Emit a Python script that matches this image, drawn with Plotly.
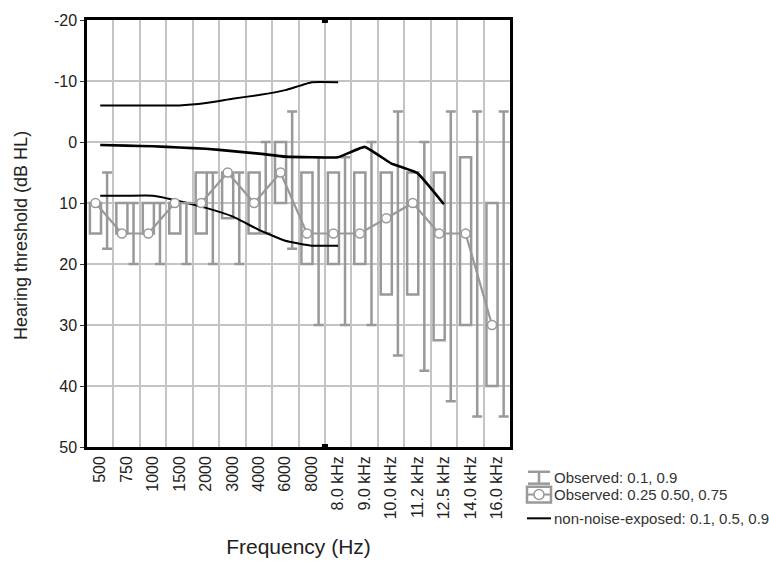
import plotly.graph_objects as go

# ---------------- data ----------------
freq_labels = ["500", "750", "1000", "1500", "2000", "3000", "4000", "6000", "8000",
               "8.0 kHz", "9.0 kHz", "10.0 kHz", "11.2 kHz", "12.5 kHz", "14.0 kHz", "16.0 kHz"]

obs_p10 = [5, 10, 10, 10, 5, 5, 0, -5, 2.5, 2.5, 0, -5, 0, -5, -5, -5]
obs_p90 = [17.5, 20, 20, 20, 20, 20, 15, 17.5, 30, 30, 30, 35, 37.5, 42.5, 45, 45]
obs_p25 = [10, 10, 10, 10, 5, 5, 5, 0, 5, 5, 5, 5, 5, 5, 2.5, 10]
obs_p75 = [15, 15, 15, 15, 15, 12.5, 15, 10, 20, 20, 20, 25, 25, 32.5, 30, 40]
obs_p50 = [10, 15, 15, 10, 10, 5, 10, 5, 15, 15, 15, 12.5, 10, 15, 15, 30]

nn_p10 = [-6, -6, -6, -6, -6.4, -7.1, -7.7, -8.5, -9.8, -9.8]
nn_p50 = [0.5, 0.6, 0.7, 0.9, 1.1, 1.5, 1.9, 2.4, 2.5, 2.5, 0.8, 3.5, 5.1, 10.2]
nn_p90 = [8.8, 8.8, 8.8, 9.7, 10.8, 12.2, 14.4, 16.2, 17, 17]

y_ticks = [-20, -10, 0, 10, 20, 30, 40, 50]
y_tick_labels = ["-20", "-10", "0", "10", "20", "30", "40", "50"]
break_after = 8  # axis break between "8000" and "8.0 kHz"

x_title = "Frequency (Hz)"
y_title = "Hearing threshold (dB HL)"
legend_labels = ["Observed: 0.1, 0.9", "Observed: 0.25 0.50, 0.75",
                 "non-noise-exposed: 0.1, 0.5, 0.9"]

# ---------------- style ----------------
GRAY = "#999999"
GRID = "#c4c4c4"
FONT = "Liberation Sans, Arial, sans-serif"
TXT = "#222222"
BOX_OFF = -0.18
WHISK_OFF = 0.26

W, H = 769, 574
L, R, T, B = 87, 259, 16, 127

n = len(freq_labels)
idx = list(range(n))


def pad(vals):
    return list(vals) + [None] * (n - len(vals))


fig = go.Figure()

# quartile boxes
fig.add_trace(go.Bar(
    x=[i + BOX_OFF for i in idx],
    base=obs_p25,
    y=[b - a for a, b in zip(obs_p25, obs_p75)],
    width=0.42,
    marker=dict(color="rgba(255,255,255,0)", line=dict(color=GRAY, width=2.5)),
    showlegend=False, hoverinfo="skip",
))

# 10/90 whiskers
fig.add_trace(go.Scatter(
    x=[i + WHISK_OFF for i in idx],
    y=[(a + b) / 2 for a, b in zip(obs_p10, obs_p90)],
    mode="markers",
    marker=dict(size=1, opacity=0),
    error_y=dict(type="data", array=[(b - a) / 2 for a, b in zip(obs_p10, obs_p90)],
                 symmetric=True, color=GRAY, thickness=2.5, width=5),
    showlegend=False, hoverinfo="skip",
))

# non-noise-exposed percentiles
for vals, w in ((nn_p10, 2), (nn_p50, 2.6), (nn_p90, 2)):
    fig.add_trace(go.Scatter(
        x=idx, y=pad(vals), mode="lines",
        line=dict(color="black", width=w, shape="spline", smoothing=0.3),
        connectgaps=False, showlegend=False, hoverinfo="skip",
    ))

# observed medians
fig.add_trace(go.Scatter(
    x=[i + BOX_OFF for i in idx], y=obs_p50, mode="lines+markers",
    line=dict(color=GRAY, width=2.2),
    marker=dict(symbol="circle", size=9, color="white", line=dict(color=GRAY, width=1.5)),
    showlegend=False, hoverinfo="skip",
))

# axis-break markers
fig.add_trace(go.Scatter(
    x=[break_after + 0.5] * 2, y=[y_ticks[0], y_ticks[-1]], mode="markers",
    marker=dict(symbol="square", size=6, color="black"),
    cliponaxis=False, showlegend=False, hoverinfo="skip",
))

fig.update_layout(
    width=W, height=H,
    margin=dict(l=L, r=R, t=T, b=B),
    paper_bgcolor="white", plot_bgcolor="white",
    font=dict(family=FONT, color=TXT),
    barmode="overlay",
    showlegend=False,
)

fig.update_xaxes(
    range=[-0.5, n - 0.5],
    tickmode="array", tickvals=idx, ticktext=freq_labels, tickangle=-90,
    tickfont=dict(size=16, family=FONT, color=TXT),
    showgrid=False, zeroline=False, ticks="",
    minor=dict(tick0=-0.5, dtick=1, showgrid=True, gridcolor=GRID, gridwidth=2, ticks=""),
    showline=True, linecolor="black", linewidth=2.5, mirror=True,
    title=dict(text=x_title, font=dict(size=21, family=FONT, color=TXT), standoff=22),
)

fig.update_yaxes(
    range=[y_ticks[-1], y_ticks[0]],
    tickmode="array", tickvals=y_ticks, ticktext=y_tick_labels,
    tickfont=dict(size=16, family=FONT, color=TXT),
    showgrid=True, gridcolor=GRID, gridwidth=2, zeroline=False,
    ticks="outside", ticklen=4, tickcolor="#333333", tickwidth=1,
    showline=True, linecolor="black", linewidth=2.5, mirror=True,
)

# ---------------- titles / manual legend ----------------
pw, ph = W - L - R, H - T - B


def px(x):
    return (x - L) / pw


def py(y):
    return (H - B - y) / ph


fig.add_annotation(text=y_title, xref="paper", yref="paper", x=px(21), y=py(234),
                   xanchor="center", yanchor="middle", textangle=-90, showarrow=False,
                   font=dict(size=18, family=FONT, color=TXT))

shapes = []
# whisker icon
shapes.append(dict(type="line", xref="paper", yref="paper", x0=px(539), x1=px(539), y0=py(472), y1=py(484),
                   line=dict(color=GRAY, width=2.5)))
for yy in (472, 484):
    shapes.append(dict(type="line", xref="paper", yref="paper", x0=px(528), x1=px(550), y0=py(yy), y1=py(yy),
                       line=dict(color=GRAY, width=2.5)))
# box icon
shapes.append(dict(type="rect", xref="paper", yref="paper", x0=px(527), x1=px(551), y0=py(487), y1=py(503),
                   line=dict(color=GRAY, width=2.5), fillcolor="rgba(0,0,0,0)"))
shapes.append(dict(type="line", xref="paper", yref="paper", x0=px(527), x1=px(551), y0=py(495), y1=py(495),
                   line=dict(color=GRAY, width=2)))
shapes.append(dict(type="circle", xref="paper", yref="paper", x0=px(534), x1=px(544), y0=py(490), y1=py(500),
                   line=dict(color=GRAY, width=1.5), fillcolor="white"))
# line icon
shapes.append(dict(type="line", xref="paper", yref="paper", x0=px(527), x1=px(551), y0=py(519), y1=py(519),
                   line=dict(color="black", width=2)))
fig.update_layout(shapes=shapes)

for text, xx, yy in zip(legend_labels, (552, 552, 552), (478, 495, 519)):
    fig.add_annotation(text=text, xref="paper", yref="paper", x=px(xx), y=py(yy),
                       xanchor="left", yanchor="middle", showarrow=False,
                       font=dict(size=15, family=FONT, color="#333333"))

fig.write_html("out.html", config={"displayModeBar": False},
               post_script="document.body.style.margin='0';")
